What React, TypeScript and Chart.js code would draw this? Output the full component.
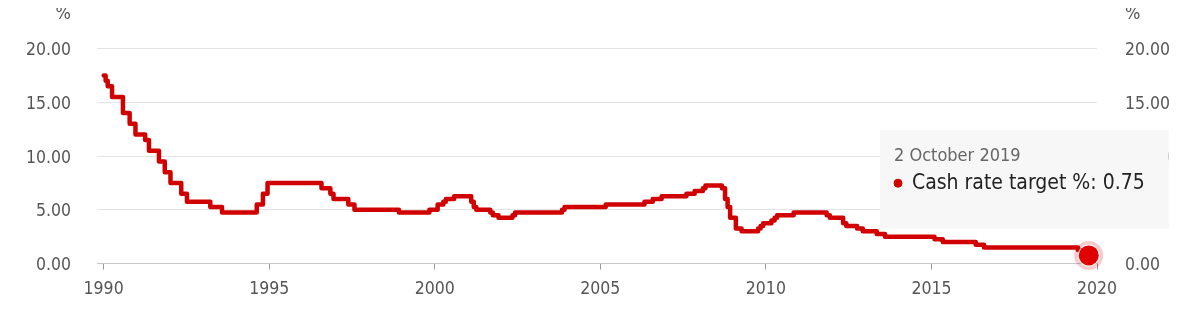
import React, { useEffect, useRef } from 'react';
import { Chart, registerables, Tooltip } from 'chart.js';

Chart.register(...registerables);

const SERIES_LABEL = 'Cash rate target %';

const CHANGE_DATES = [
  '1990-01-02', '1990-01-23', '1990-02-15', '1990-04-04', '1990-08-02', '1990-10-15', '1990-12-18',
  '1991-04-04', '1991-05-16', '1991-09-03', '1991-11-06',
  '1992-01-08', '1992-05-06', '1992-07-08',
  '1993-03-23', '1993-07-30',
  '1994-08-17', '1994-10-24', '1994-12-14',
  '1996-07-31', '1996-11-06', '1996-12-11',
  '1997-05-23', '1997-07-30',
  '1998-12-02',
  '1999-11-03',
  '2000-02-02', '2000-04-05', '2000-05-03', '2000-08-02',
  '2001-02-07', '2001-03-07', '2001-04-04', '2001-09-05', '2001-10-03', '2001-12-05',
  '2002-05-08', '2002-06-05',
  '2003-11-05', '2003-12-03',
  '2005-03-02',
  '2006-05-03', '2006-08-02', '2006-11-08',
  '2007-08-08', '2007-11-07',
  '2008-02-06', '2008-03-05', '2008-09-03', '2008-10-08', '2008-11-05', '2008-12-03',
  '2009-02-04', '2009-04-08', '2009-10-07', '2009-11-04', '2009-12-02',
  '2010-03-03', '2010-04-07', '2010-05-05', '2010-11-03',
  '2011-11-02', '2011-12-07',
  '2012-05-02', '2012-06-06', '2012-10-03', '2012-12-05',
  '2013-05-08', '2013-08-07',
  '2015-02-04', '2015-05-06',
  '2016-05-04', '2016-08-03',
  '2019-06-05', '2019-07-03', '2019-10-02',
];

const CASH_RATES = [
  17.5, 17.0, 16.5, 15.5, 14.0, 13.0, 12.0,
  11.5, 10.5, 9.5, 8.5,
  7.5, 6.5, 5.75,
  5.25, 4.75,
  5.5, 6.5, 7.5,
  7.0, 6.5, 6.0,
  5.5, 5.0,
  4.75,
  5.0,
  5.5, 5.75, 6.0, 6.25,
  5.75, 5.25, 5.0, 4.75, 4.5, 4.25,
  4.5, 4.75,
  5.0, 5.25,
  5.5,
  5.75, 6.0, 6.25,
  6.5, 6.75,
  7.0, 7.25, 7.0, 6.0, 5.25, 4.25,
  3.25, 3.0, 3.25, 3.5, 3.75,
  4.0, 4.25, 4.5, 4.75,
  4.5, 4.25,
  3.75, 3.5, 3.25, 3.0,
  2.75, 2.5,
  2.25, 2.0,
  1.75, 1.5,
  1.25, 1.0, 0.75,
];

const X_TICK_YEARS = [1990, 1995, 2000, 2005, 2010, 2015, 2020];
const Y_TICK_VALUES = [0, 5, 10, 15, 20];
const X_MIN = 1989.8;
const X_MAX = 2020;
const Y_MIN = 0;
const Y_MAX = 20;
const UNIT_LABEL = '%';
const MONTH_NAMES = ['January', 'February', 'March', 'April', 'May', 'June', 'July', 'August', 'September', 'October', 'November', 'December'];

const RED = '#d00000';
const FONT = '"DejaVu Sans Condensed", "DejaVu Sans", sans-serif';
const TICK_COLOR = '#555555';

function toDecimalYear(iso: string): number {
  const [y, m, d] = iso.split('-').map(Number);
  const start = Date.UTC(y, 0, 1);
  const end = Date.UTC(y + 1, 0, 1);
  return y + (Date.UTC(y, m - 1, d) - start) / (end - start);
}

function formatDate(iso: string): string {
  const [y, m, d] = iso.split('-').map(Number);
  return `${d} ${MONTH_NAMES[m - 1]} ${y}`;
}

(Tooltip.positioners as any).fixedBox = function () {
  const ca = this.chart.chartArea;
  return { x: ca.right - 217, y: ca.top + 81.5, xAlign: 'left', yAlign: 'top' };
};

const decorPlugin = {
  id: 'decor',
  afterDatasetsDraw(chart: any) {
    const meta = chart.getDatasetMeta(0);
    const pt = meta.data[meta.data.length - 1];
    if (!pt) return;
    const ctx = chart.ctx;
    ctx.save();
    ctx.beginPath();
    ctx.arc(pt.x, pt.y, 14.5, 0, Math.PI * 2);
    ctx.fillStyle = 'rgba(210,0,0,0.2)';
    ctx.fill();
    ctx.beginPath();
    ctx.arc(pt.x, pt.y, 11, 0, Math.PI * 2);
    ctx.fillStyle = '#ffffff';
    ctx.globalAlpha = 0.85;
    ctx.fill();
    ctx.globalAlpha = 1;
    ctx.beginPath();
    ctx.arc(pt.x, pt.y, 10, 0, Math.PI * 2);
    ctx.fillStyle = '#e00000';
    ctx.fill();
    ctx.restore();
  },
  afterDraw(chart: any) {
    const ctx = chart.ctx;
    const ca = chart.chartArea;
    ctx.save();
    ctx.font = `18px ${FONT}`;
    ctx.fillStyle = TICK_COLOR;
    ctx.textBaseline = 'middle';
    ctx.textAlign = 'right';
    ctx.fillText(UNIT_LABEL, ca.left - 26, 6.5);
    ctx.textAlign = 'left';
    ctx.fillText(UNIT_LABEL, ca.right + 28, 6.5);
    ctx.restore();
  },
};

export default function App() {
  const canvasRef = useRef<HTMLCanvasElement | null>(null);

  useEffect(() => {
    if (!canvasRef.current) return;
    const points = CHANGE_DATES.map((d, i) => ({ x: toDecimalYear(d), y: CASH_RATES[i] }));
    const lastIndex = points.length - 1;

    const yTickCallback = (v: any) => Number(v).toFixed(2);
    const fixTicks = (values: number[]) => (scale: any) => {
      scale.ticks = values.map((v) => ({ value: v }));
    };

    const chart = new Chart(canvasRef.current, {
      type: 'line',
      data: {
        datasets: [
          {
            label: SERIES_LABEL,
            data: points,
            borderColor: RED,
            backgroundColor: RED,
            borderWidth: 4.5,
            stepped: 'before',
            pointRadius: 0,
            pointHoverRadius: 0,
            pointStyle: 'circle',
            fill: false,
            borderJoinStyle: 'round',
            borderCapStyle: 'round',
            yAxisID: 'y',
          },
        ],
      },
      options: {
        responsive: false,
        maintainAspectRatio: false,
        animation: false,
        events: [],
        layout: { padding: { top: 40.5, left: 0, right: 0, bottom: 0 } },
        plugins: {
          legend: { display: false },
          title: { display: false },
          tooltip: {
            enabled: true,
            position: 'fixedBox' as any,
            xAlign: 'left',
            yAlign: 'top',
            caretSize: 0,
            caretPadding: 0,
            cornerRadius: 0,
            backgroundColor: '#f7f7f7',
            borderWidth: 0,
            titleColor: '#666666',
            bodyColor: '#222222',
            titleFont: { family: FONT, size: 18, weight: 'normal' },
            bodyFont: { family: FONT, size: 21, weight: 'normal' },
            titleMarginBottom: 3,
            padding: { top: 16, bottom: 33, left: 14, right: 24 },
            displayColors: true,
            usePointStyle: true,
            boxWidth: 8,
            boxHeight: 8,
            boxPadding: 8,
            callbacks: {
              title: (items: any[]) => (items.length ? formatDate(CHANGE_DATES[items[0].dataIndex]) : ''),
              label: (item: any) => `${SERIES_LABEL}: ${CASH_RATES[item.dataIndex]}`,
              labelColor: () => ({ borderColor: RED, backgroundColor: RED, borderWidth: 0 } as any),
              labelPointStyle: () => ({ pointStyle: 'circle', rotation: 0 } as any),
            },
          },
        },
        scales: {
          x: {
            type: 'linear',
            min: X_MIN,
            max: X_MAX,
            afterBuildTicks: fixTicks(X_TICK_YEARS),
            afterFit: (scale: any) => {
              scale.height = 44.5;
              scale.paddingLeft = 0;
              scale.paddingRight = 0;
            },
            grid: {
              drawOnChartArea: false,
              drawTicks: true,
              tickLength: 6,
              tickColor: '#999999',
              tickWidth: 1,
            },
            border: { display: true, color: '#c8c8c8', width: 1 },
            ticks: {
              autoSkip: false,
              maxRotation: 0,
              padding: 9,
              color: TICK_COLOR,
              font: { family: FONT, size: 17.5 },
              callback: (v: any) => String(v),
            },
          },
          y: {
            type: 'linear',
            position: 'left',
            min: Y_MIN,
            max: Y_MAX,
            afterBuildTicks: fixTicks(Y_TICK_VALUES),
            afterFit: (scale: any) => {
              scale.width = 89;
              scale.paddingTop = 0;
              scale.paddingBottom = 0;
            },
            grid: { color: '#e4e4e4', lineWidth: 1, drawTicks: false },
            border: { display: false },
            ticks: {
              padding: 26,
              labelOffset: 2,
              color: TICK_COLOR,
              font: { family: FONT, size: 17.5 },
              callback: yTickCallback,
            },
          },
          y2: {
            type: 'linear',
            position: 'right',
            display: true,
            min: Y_MIN,
            max: Y_MAX,
            afterBuildTicks: fixTicks(Y_TICK_VALUES),
            afterFit: (scale: any) => {
              scale.width = 95;
              scale.paddingTop = 0;
              scale.paddingBottom = 0;
            },
            grid: { drawOnChartArea: false, drawTicks: false },
            border: { display: false },
            ticks: {
              padding: 28,
              labelOffset: 2,
              color: TICK_COLOR,
              font: { family: FONT, size: 17.5 },
              callback: yTickCallback,
            },
          },
        },
      },
      plugins: [decorPlugin],
    });

    const active = [{ datasetIndex: 0, index: lastIndex }];
    chart.setActiveElements(active);
    chart.tooltip?.setActiveElements(active, { x: 0, y: 0 });
    chart.update();

    return () => {
      chart.destroy();
    };
  }, []);

  return (
    <div style={{ width: 1184, height: 300 }}>
      <canvas ref={canvasRef} width={1184} height={300} style={{ display: 'block', width: 1184, height: 300 }} />
    </div>
  );
}
